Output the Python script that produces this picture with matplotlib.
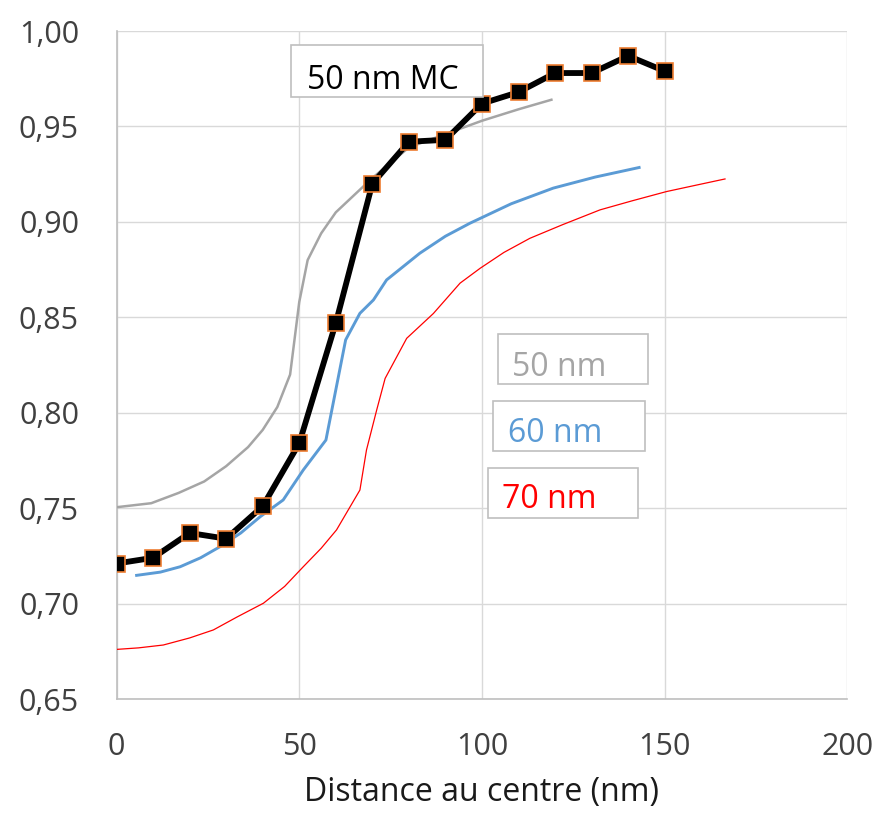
"""Profil radial : courbes 50/60/70 nm et points Monte-Carlo 50 nm."""

import matplotlib
matplotlib.use('Agg')
import matplotlib.pyplot as plt
from matplotlib.patches import Rectangle
from matplotlib.ticker import FuncFormatter, MultipleLocator

# Monte-Carlo 50 nm (carres noirs)
mc_x = [0, 10, 20, 30, 40, 50, 60, 70, 80, 90, 100, 110, 120, 130, 140, 150]
mc_y = [0.721, 0.724, 0.737, 0.734, 0.751, 0.784, 0.847, 0.920, 0.942, 0.943,
        0.962, 0.968, 0.978, 0.978, 0.987, 0.979]

# courbe 50 nm (gris)
g50_x = [0, 9.5, 17, 24, 30, 36, 40, 44, 47.5, 50, 52.3, 56, 60, 65, 70, 80,
         90, 100, 110, 119]
g50_y = [0.7505, 0.7526, 0.758, 0.764, 0.772, 0.782, 0.791, 0.803, 0.820,
         0.858, 0.880, 0.894, 0.905, 0.914, 0.923, 0.939, 0.946, 0.953,
         0.959, 0.964]

# courbe 60 nm (bleu)
b60_x = [5.5, 12, 17.4, 23, 28.3, 34, 39.3, 45.6, 51.1, 57.3, 62.7, 66.6,
         70.3, 73.9, 83, 90, 96.7, 108, 119.5, 131, 143]
b60_y = [0.7148, 0.7165, 0.7193, 0.724, 0.7298, 0.737, 0.7455, 0.7543, 0.770,
         0.7857, 0.8382, 0.8521, 0.8591, 0.8696, 0.8836, 0.8925, 0.8993,
         0.9095, 0.9177, 0.9235, 0.9285]

# courbe 70 nm (rouge)
r70_x = [0, 6, 12.8, 20, 26.5, 33, 40.2, 46, 51.1, 56, 60.2, 66.6, 68.4,
         71.2, 73.5, 79.4, 86.7, 94, 99.5, 106, 113.1, 122, 132.3, 141,
         150.5, 158, 166.5]
r70_y = [0.676, 0.6768, 0.6783, 0.682, 0.6862, 0.693, 0.7002, 0.709, 0.7193,
         0.729, 0.7386, 0.7595, 0.7805, 0.8015, 0.818, 0.839, 0.852, 0.8679,
         0.8757, 0.884, 0.8914, 0.8985, 0.9063, 0.911, 0.9159, 0.919, 0.9225]

labels = ['50 nm MC', '50 nm', '60 nm', '70 nm']

GREY = '#a5a5a5'
BLUE = '#5b9bd5'
RED = '#ff0000'
ORANGE = '#ed7d31'

plt.rcParams['font.family'] = ['Open Sans', 'DejaVu Sans']

fig = plt.figure(figsize=(8.8, 8.17), dpi=100)
ax = fig.add_axes([0.1324, 0.1444, 0.8306, 0.8176])

ax.plot(g50_x, g50_y, color=GREY, lw=1.8, zorder=3)
ax.plot(b60_x, b60_y, color=BLUE, lw=2.1, zorder=3)
ax.plot(r70_x, r70_y, color=RED, lw=0.9, zorder=3)
ax.plot(mc_x, mc_y, color='black', lw=4.2, marker='s', ms=11,
        mfc='black', mec=ORANGE, mew=1.2, zorder=4)

ax.set_xlim(0, 200)
ax.set_ylim(0.65, 1.00)
ax.xaxis.set_major_locator(MultipleLocator(50))
ax.yaxis.set_major_locator(MultipleLocator(0.05))
ax.yaxis.set_major_formatter(FuncFormatter(lambda v, p: f'{v:.2f}'.replace('.', ',')))
ax.grid(True, color='#d9d9d9', lw=1.0, zorder=0)
ax.set_axisbelow(True)
for side in ['top', 'right']:
    ax.spines[side].set_visible(False)
for side in ['left', 'bottom']:
    ax.spines[side].set_color('#bfbfbf')
    ax.spines[side].set_linewidth(1.2)
ax.tick_params(axis='y', length=0, pad=27, labelsize=22, labelcolor='#404040')
ax.tick_params(axis='x', length=0, pad=24, labelsize=22, labelcolor='#404040')
ax.set_xlabel('Distance au centre (nm)', fontsize=23, color='#1a1a1a', labelpad=10)

# etiquettes encadrees
boxes = [
    (0.2387, 0.9007, 0.2631, 0.0779, 0.260, 0.9323, 'black'),
    (0.5215, 0.4711, 0.2060, 0.0753, 0.5406, 0.503, GREY),
    (0.5146, 0.3713, 0.2084, 0.0748, 0.536, 0.4034, BLUE),
    (0.5078, 0.2714, 0.2060, 0.0749, 0.527, 0.3042, RED),
]
for (x0, y0, w, h, tx, ty, col), lab in zip(boxes, labels):
    ax.add_patch(Rectangle((x0, y0), w, h, transform=ax.transAxes,
                           facecolor='white', edgecolor='#bfbfbf', lw=1.2,
                           zorder=5, clip_on=False))
    ax.text(tx, ty, lab, transform=ax.transAxes, fontsize=23, color=col,
            ha='left', va='center_baseline', zorder=6)

fig.savefig('out.png', dpi=100)
